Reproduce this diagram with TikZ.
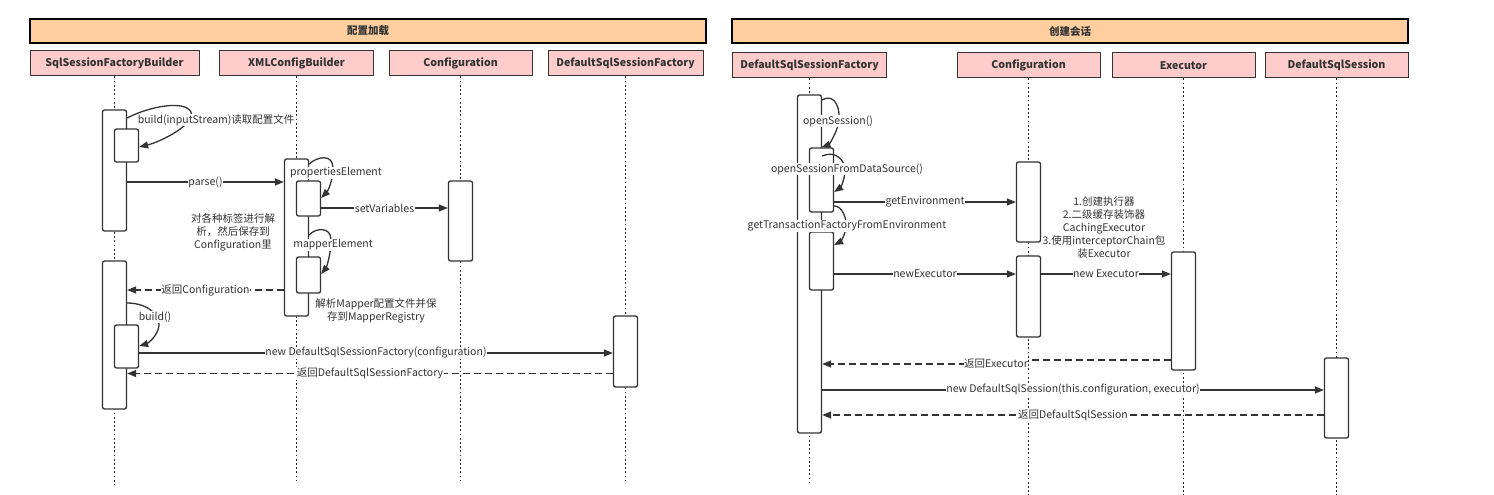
\documentclass[tikz,border=0pt]{standalone}
\usepackage{fontspec}
\setmainfont{Noto Sans CJK SC}
\usetikzlibrary{arrows.meta}

\definecolor{hdrfill}{HTML}{FFCE9F}
\definecolor{headfill}{HTML}{FFCCCC}
\definecolor{ink}{HTML}{333333}

\begin{document}
\begin{tikzpicture}[x=1pt,y=-1pt,
    every node/.style={font=\fontsize{10.5}{12}\selectfont, text=ink},
    group/.style={draw=black, line width=1.2pt, fill=hdrfill, minimum height=24pt, inner sep=0pt, font=\bfseries\fontsize{10.5}{12}\selectfont},
    actor/.style={draw=ink, line width=1pt, fill=headfill, minimum height=25pt, inner sep=0pt, font=\bfseries\fontsize{10.6}{12}\selectfont},
    life/.style={black!85, line width=1.3pt, dash pattern=on 1.8pt off 2.4pt},
    act/.style={draw=ink, line width=1.3pt, fill=white, rounded corners=2pt, minimum width=24pt, inner sep=0pt},
    msg/.style={ink, line width=1.3pt, -{Triangle[length=9pt,width=7pt]}},
    ret/.style={msg, dash pattern=on 7pt off 4pt},
    lbl/.style={fill=white, inner sep=0.6pt},
    note/.style={align=center, inner sep=0pt, font=\fontsize{10.5}{13}\selectfont}
]
\useasboundingbox (0,0) rectangle (1494,495);

%% left: loading the configuration
\node[group, minimum width=676pt] (gLoad) at (368,31) {配置加载};
\node[actor, minimum width=169pt] (hBuilder) at (114.5,63.5) {SqlSessionFactoryBuilder};
\node[actor, minimum width=154pt] (hXml) at (296.5,63.5) {XMLConfigBuilder};
\node[actor, minimum width=143pt] (hConf) at (460.5,63.5) {Configuration};
\node[actor, minimum width=155pt] (hFactory) at (625.5,63.5) {DefaultSqlSessionFactory};

%% right: opening a session
\node[group, minimum width=676pt] (gSession) at (1070,31) {创建会话};
\node[actor, minimum width=154pt] (hFactory2) at (809.5,65.5) {DefaultSqlSessionFactory};
\node[actor, minimum width=143pt] (hConf2) at (1028.5,65.5) {Configuration};
\node[actor, minimum width=143pt] (hExec) at (1183.5,65.5) {Executor};
\node[actor, minimum width=143pt] (hSess) at (1336.5,65.5) {DefaultSqlSession};

% lifelines
\foreach \n/\e in {hBuilder/485, hXml/480, hConf/480, hFactory/480,
                   hFactory2/483, hConf2/495, hExec/495, hSess/495} {
  \coordinate (\n-end) at (\n.south |- 0,\e);
  \draw[life] (\n.south) -- (\n-end);
}

% activations
\node[act, minimum height=121pt] (a1) at (114.5,170.5) {};
\node[act, minimum height=33pt] (a1n) at (126.5,145.5) {};
\node[act, minimum height=157pt] (x1) at (296.5,237.5) {};
\node[act, minimum height=35pt] (x1p) at (308.5,198.5) {};
\node[act, minimum height=36pt] (x1m) at (308.5,275) {};
\node[act, minimum height=80pt] (c1) at (460.5,221) {};
\node[act, minimum height=148pt] (a2) at (114.5,335) {};
\node[act, minimum height=43pt] (a2n) at (126.5,346.5) {};
\node[act, minimum height=71pt] (d1) at (625.5,351.5) {};

\node[act, minimum height=338pt] (s1) at (809.5,264) {};
\node[act, minimum height=64pt] (s1a) at (821.5,180) {};
\node[act, minimum height=58pt] (s1b) at (821.5,261) {};
\node[act, minimum height=80pt] (g1) at (1028.5,202) {};
\node[act, minimum height=81pt] (g2) at (1028.5,296.5) {};
\node[act, minimum height=118pt] (e1) at (1183.5,311) {};
\node[act, minimum height=80pt] (t1) at (1336.5,398) {};

% messages, left
\draw[msg] (a1.east |- 0,118) .. controls (150,106) and (185,100) .. (191,112)
  .. controls (195,125) and (160,142) .. (a1n.east |- 0,147);
\draw[msg] (a1.east |- 0,182) -- node[lbl] {parse()} (x1.west |- 0,182);
\draw[msg] (x1.east |- 0,164) .. controls (318,156) and (333,154) .. (333,168)
  .. controls (333,182) and (327,192) .. (x1p.east |- 0,198);
\draw[msg] (x1p.east |- 0,208) -- node[lbl] {setVariables} (c1.west |- 0,208);
\draw[msg] (x1.east |- 0,235) .. controls (315,228) and (331,226) .. (331,240)
  .. controls (331,255) and (326,268) .. (x1m.east |- 0,274);
\draw[ret] (x1.west |- 0,290) -- node[lbl] {返回Configuration} (a2.east |- 0,290);
\draw[msg] (a2.east |- 0,303) .. controls (150,303) and (163,318) .. (158,330)
  .. controls (154,340) and (146,344) .. (a2n.east |- 0,346);
\draw[msg] (a2n.east |- 0,353) -- node[lbl] {new DefaultSqlSessionFactory(configuration)} (d1.west |- 0,353);
\draw[ret] (d1.west |- 0,373.5) -- node[lbl] {返回DefaultSqlSessionFactory} (a2.east |- 0,373.5);

\node[lbl, anchor=west] (mBuild) at (137,120) {build(inputStream)读取配置文件};
\node[lbl] (mProps) at (336,173) {propertiesElement};
\node[lbl] (mMapper) at (333,245) {mapperElement};
\node[lbl] (mBuild2) at (155,317) {build()};
\node[note] (nParse) at (233,232.5) {对各种标签进行解\\析，然后保存到\\Configuration里};
\node[note] (nMapper) at (376,311) {解析Mapper配置文件并保\\存到MapperRegistry};

% messages, right
\draw[msg] (s1.east |- 0,100) .. controls (835,92) and (842,110) .. (838,125)
  .. controls (835,137) and (828,145) .. (s1a.north);
\draw[msg] (s1.east |- 0,156) .. controls (835,150) and (846,160) .. (845,172)
  .. controls (844,182) and (840,188) .. (s1a.east |- 0,192);
\draw[msg] (s1a.east |- 0,202) -- node[lbl] {getEnvironment} (g1.west |- 0,202);
\draw[msg] (s1a.east |- 0,206) .. controls (842,206) and (847,218) .. (846,227)
  .. controls (845,236) and (840,242) .. (s1b.east |- 0,245);
\draw[msg] (s1b.east |- 0,274) -- node[lbl] {newExecutor} (g2.west |- 0,274);
\draw[msg] (g2.east |- 0,274) -- node[lbl] {new Executor} (e1.west |- 0,274);
\draw[ret] (e1.west |- 0,360) -- (1026,360) -- (1026,364) -- (s1.east |- 0,364);
\draw[msg] (s1.east |- 0,390) -- node[lbl] {new DefaultSqlSession(this.configuration, executor)} (t1.west |- 0,390);
\draw[ret] (t1.west |- 0,415) -- node[lbl] {返回DefaultSqlSession} (s1.east |- 0,415);

\node[lbl] (mOpen) at (838,121) {openSession()};
\node[lbl] (mOpenDs) at (847,169) {openSessionFromDataSource()};
\node[lbl] (mTx) at (847,226) {getTransactionFactoryFromEnvironment};
\node[lbl] (mRetExec) at (996,364) {返回Executor};
\node[note] (nExec) at (1104,228) {1.创建执行器\\2.二级缓存装饰器\\CachingExecutor\\3.使用interceptorChain包\\装Executor};

\end{tikzpicture}
\end{document}
